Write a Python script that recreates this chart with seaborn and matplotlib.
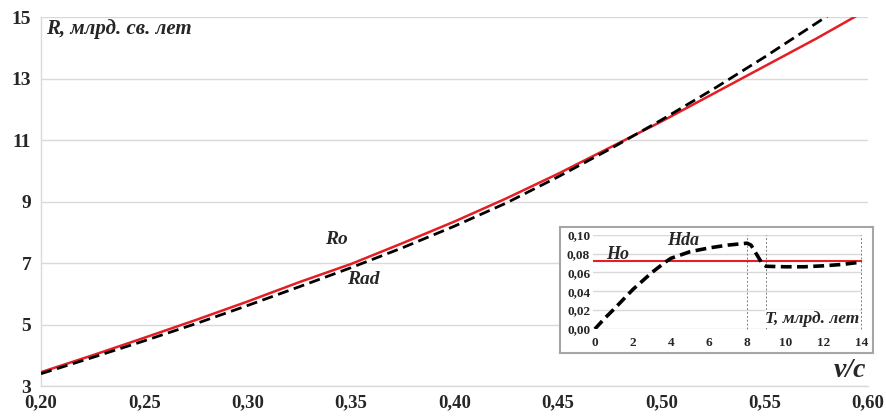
#!/usr/bin/env python3
"""R(v/c): Ro vs Rad, с врезкой H(T): Ho vs Hda."""

import matplotlib

matplotlib.use("Agg")
import matplotlib.pyplot as plt
import pandas as pd
import seaborn as sns

# main chart: R, млрд. св. лет vs v/c
V = [0.200, 0.225, 0.250, 0.275, 0.300, 0.325, 0.350, 0.375, 0.400,
     0.425, 0.450, 0.475, 0.500, 0.525, 0.550, 0.575, 0.600]
R_O = [3.45, 4.00, 4.57, 5.15, 5.75, 6.38, 6.97, 7.65, 8.35,
       9.10, 9.90, 10.75, 11.60, 12.50, 13.40, 14.30, 15.25]
R_AD = [3.40, 3.93, 4.47, 5.03, 5.62, 6.23, 6.85, 7.50, 8.20,
        8.95, 9.80, 10.70, 11.65, 12.65, 13.70, 14.80, 15.90]
X_TICKS = [0.20, 0.25, 0.30, 0.35, 0.40, 0.45, 0.50, 0.55, 0.60]
Y_TICKS = [3, 5, 7, 9, 11, 13, 15]

# inset: H vs T, млрд. лет
T = [0, 0.5, 1, 2, 3, 3.7, 4, 5, 6, 7, 8, 8.2, 8.5, 8.8, 9, 10, 11, 12, 13, 14]
H_DA = [0.000, 0.011, 0.021, 0.042, 0.060, 0.071, 0.075, 0.082, 0.086, 0.089,
        0.091, 0.089, 0.079, 0.069, 0.0665, 0.066, 0.066, 0.067, 0.0685, 0.071]
H_O = 0.072
T_TICKS = [0, 2, 4, 6, 8, 10, 12, 14]
H_TICKS = [0.00, 0.02, 0.04, 0.06, 0.08, 0.10]
T_MARKS = [8, 9, 14]

RED = "#e31e24"
GRID = "#d9d9d9"


def comma(x, nd):
    return f"{x:.{nd}f}".replace(".", ",")


sns.set_style("white")
plt.rcParams["font.family"] = ["Liberation Serif", "DejaVu Serif"]
plt.rcParams["font.weight"] = "bold"

fig = plt.figure(figsize=(8.87, 4.16), dpi=100)
ax = fig.add_axes([0.0462, 0.0721, 0.9324, 0.8869])

df = pd.DataFrame({"v": V, "Ro": R_O, "Rad": R_AD})
sns.lineplot(data=df, x="v", y="Ro", ax=ax, color=RED, lw=1.8, zorder=3)
sns.lineplot(data=df, x="v", y="Rad", ax=ax, color="black", lw=2.0,
             linestyle=(0, (4, 2)), zorder=4)

ax.set_xlim(0.20, 0.60)
ax.set_ylim(3, 15)
ax.set_xticks(X_TICKS)
ax.set_xticklabels([comma(x, 2) for x in X_TICKS], fontsize=13.5, fontweight="bold")
ax.set_yticks(Y_TICKS)
ax.set_yticklabels([str(y) for y in Y_TICKS], fontsize=14, fontweight="bold")
ax.set_xlabel("")
ax.set_ylabel("")
ax.yaxis.grid(True, color=GRID, lw=1)
ax.tick_params(axis="x", length=5, color=GRID, pad=1)
ax.tick_params(axis="y", length=0, pad=7)
for side in ["top", "right"]:
    ax.spines[side].set_visible(False)
for side in ["left", "bottom"]:
    ax.spines[side].set_color(GRID)
    ax.spines[side].set_linewidth(1)

ax.text(0.2025, 14.6, "R, млрд. св. лет", fontsize=15, fontweight="bold",
        style="italic", va="center", ha="left")
ax.text(0.343, 7.75, "Ro", fontsize=14, fontweight="bold", style="italic",
        ha="center", va="center")
ax.text(0.356, 6.45, "Rad", fontsize=14, fontweight="bold", style="italic",
        ha="center", va="center")
ax.text(0.599, 3.5, "v/c", fontsize=20, fontweight="bold", style="italic",
        ha="right", va="center")

# inset frame
box = fig.add_axes([0.6313, 0.1514, 0.3529, 0.3029])
box.set_xticks([])
box.set_yticks([])
box.set_facecolor("white")
for s in box.spines.values():
    s.set_color("#a6a6a6")
    s.set_linewidth(1.5)
box.set_zorder(5)

ins = fig.add_axes([0.6685, 0.2091, 0.3033, 0.2267])
ins.set_zorder(6)
ins.patch.set_alpha(0)
di = pd.DataFrame({"T": T, "Hda": H_DA})
ins.axhline(H_O, color=RED, lw=1.5, zorder=3)
sns.lineplot(data=di, x="T", y="Hda", ax=ins, color="black", lw=2.6,
             linestyle=(0, (3, 1.5)), zorder=4)
for t in T_MARKS:
    ins.axvline(t, color="#808080", lw=0.7, linestyle=(0, (2, 2)), zorder=2,
                clip_on=False)
ins.set_xlim(-0.1, 14.03)
ins.set_ylim(0, 0.10)
ins.set_xticks(T_TICKS)
ins.set_xticklabels([str(t) for t in T_TICKS], fontsize=9.5, fontweight="bold")
ins.set_yticks(H_TICKS)
ins.set_yticklabels([comma(h, 2) for h in H_TICKS], fontsize=9.5, fontweight="bold")
ins.set_xlabel("")
ins.set_ylabel("")
ins.yaxis.grid(True, color=GRID, lw=1)
ins.tick_params(axis="y", length=0, pad=2)
ins.tick_params(axis="x", length=0, pad=6)
for s in ins.spines.values():
    s.set_visible(False)
ins.text(0.6, 0.0795, "Ho", fontsize=13, fontweight="bold", style="italic",
         ha="left", va="center")
ins.text(3.8, 0.0935, "Hda", fontsize=13, fontweight="bold", style="italic",
         ha="left", va="center")
ins.text(13.9, 0.0105, "T, млрд. лет", fontsize=12.5, fontweight="bold",
         style="italic", ha="right", va="center",
         bbox=dict(facecolor="white", edgecolor="none", pad=0.5))

fig.savefig("out.png", dpi=100)
